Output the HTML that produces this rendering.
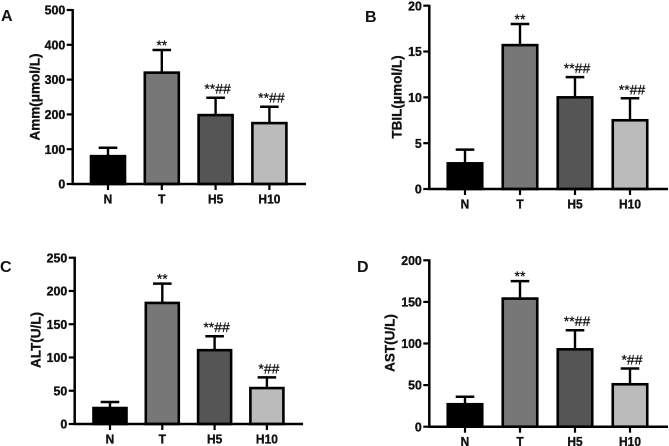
<!DOCTYPE html>
<html>
<head>
<meta charset="utf-8">
<style>
html,body{margin:0;padding:0;background:#fff;width:669px;height:446px;overflow:hidden}
svg{display:block;filter:blur(0.35px)}
text{font-family:"Liberation Sans",sans-serif;fill:#111}
.tick{font-weight:bold;font-size:13px;stroke:#111;stroke-width:0.35px}
.title{font-weight:bold;font-size:13.5px;stroke:#111;stroke-width:0.3px}
.letter{font-weight:bold;font-size:16px}
.note{font-size:14px;stroke:#111;stroke-width:0.25px}
</style>
</head>
<body>
<svg id="figure" width="669" height="446" viewBox="0 0 669 446" xmlns="http://www.w3.org/2000/svg"></svg>
<script>
const categories = ['N', 'T', 'H5', 'H10'];

const ammValues = [80, 320, 198, 175];
const ammErrorTops = [104, 385, 248, 222];
const ammTicks = [0, 100, 200, 300, 400, 500];

const tbilValues = [2.8, 15.7, 10, 7.5];
const tbilErrorTops = [4.3, 18, 12.2, 9.9];
const tbilTicks = [0, 5, 10, 15, 20];

const altValues = [24, 182, 111, 54];
const altErrorTops = [33, 211, 132, 70];
const altTicks = [0, 50, 100, 150, 200, 250];

const astValues = [27, 154, 93, 51];
const astErrorTops = [36, 175, 116, 70];
const astTicks = [0, 50, 100, 150, 200];

const ammNotes = ['', '**', '**##', '**##'];
const tbilNotes = ['', '**', '**##', '**##'];
const altNotes = ['', '**', '**##', '*##'];
const astNotes = ['', '**', '**##', '*##'];

const barColors = ['#000000', '#777777', '#555555', '#bbbbbb'];

const panels = [
  {key:'amm', letter:'A', lx:1, ly:21, title:'Amm(μmol/L)', tx:35, ty:97, ax:72.7, xEnd:306, y0:184, yTop:10, c0:108, step:53.8, bw:34,
   values:ammValues, tops:ammErrorTops, ticks:ammTicks, notes:ammNotes},
  {key:'tbil', letter:'B', lx:365, ly:22, title:'TBIL(μmol/L)', tx:397, ty:97, ax:429.3, xEnd:668, y0:189, yTop:5.7, c0:465, step:55, bw:34.5,
   values:tbilValues, tops:tbilErrorTops, ticks:tbilTicks, notes:tbilNotes},
  {key:'alt', letter:'C', lx:0, ly:272, title:'ALT(U/L)', tx:36, ty:340, ax:74.7, xEnd:303, y0:424, yTop:257.7, c0:110, step:52.3, bw:33,
   values:altValues, tops:altErrorTops, ticks:altTicks, notes:altNotes},
  {key:'ast', letter:'D', lx:357, ly:272, title:'AST(U/L)', tx:390, ty:343, ax:429.3, xEnd:668, y0:426.7, yTop:260.3, c0:465, step:55, bw:34.5,
   values:astValues, tops:astErrorTops, ticks:astTicks, notes:astNotes}
];

const NS = 'http://www.w3.org/2000/svg';
const svg = document.getElementById('figure');

function mk(parent, tag, props, txt) {
  const el = document.createElementNS(NS, tag);
  for (const k in props) el.setAttribute(k, props[k]);
  if (txt !== undefined) el.textContent = txt;
  parent.appendChild(el);
  return el;
}

panels.forEach(function (p) {
  const maxTick = p.ticks[p.ticks.length - 1];
  const yScale = function (v) { return p.y0 - (v / maxTick) * (p.y0 - p.yTop); };
  const xScale = function (i) { return p.c0 + i * p.step; };

  const g = mk(svg, 'g', {});
  
  

  const letter = mk(g, 'text', {x:p.lx, y:p.ly, class:'letter'}, p.letter);
  
  

  const title = mk(g, 'text', {class:'title', 'text-anchor':'middle', transform:'translate(' + p.tx + ',' + p.ty + ') rotate(-90)', y:4.5}, p.title);
  
  

  p.values.forEach(function (v, i) {
    const cx = xScale(i);
    const yv = yScale(v);
    const yt = yScale(p.tops[i]);

    const stem = mk(g, 'line', {x1:cx, x2:cx, y1:yv, y2:yt, stroke:'#000', 'stroke-width':2.4});
    
    

    const cap = mk(g, 'line', {x1:cx - 9.3, x2:cx + 9.3, y1:yt, y2:yt, stroke:'#000', 'stroke-width':2.5});
    
    

    const bar = mk(g, 'rect', {x:cx - p.bw / 2, y:yv, width:p.bw, height:p.y0 - yv, fill:barColors[i], stroke:'#000', 'stroke-width':2.6});
    
    

    if (p.notes[i]) {
      const hasHash = p.notes[i].indexOf('#') >= 0;
      const note = mk(g, 'text', {x:cx + (hasHash ? 2 : 0), y:yt - (hasHash ? 4 : 0), class:'note', 'text-anchor':'middle'}, p.notes[i]);
      
      
    }

    const xt = mk(g, 'line', {x1:cx, x2:cx, y1:p.y0, y2:p.y0 + 6, stroke:'#000', 'stroke-width':2.2});
    
    

    const xl = mk(g, 'text', {class:'tick', 'text-anchor':'middle', transform:'translate(' + cx + ',' + (p.y0 + 19.5) + ') scale(0.92,1)'}, categories[i]);
    
    
  });

  const yAxis = mk(g, 'line', {x1:p.ax, x2:p.ax, y1:p.yTop - 1, y2:p.y0 + 1, stroke:'#000', 'stroke-width':2.5});
  
  

  const xAxis = mk(g, 'line', {x1:p.ax - 1, x2:p.xEnd, y1:p.y0, y2:p.y0, stroke:'#000', 'stroke-width':2.5});
  
  

  p.ticks.forEach(function (t) {
    const y = yScale(t);
    const tk = mk(g, 'line', {x1:p.ax - 6, x2:p.ax, y1:y, y2:y, stroke:'#000', 'stroke-width':2.2});
    
    

    const tl = mk(g, 'text', {class:'tick', 'text-anchor':'end', transform:'translate(' + (p.ax - 7.5) + ',' + (y + 4.6) + ') scale(0.95,1)'}, String(t));
    
    
  });
});
</script>
</body>
</html>
